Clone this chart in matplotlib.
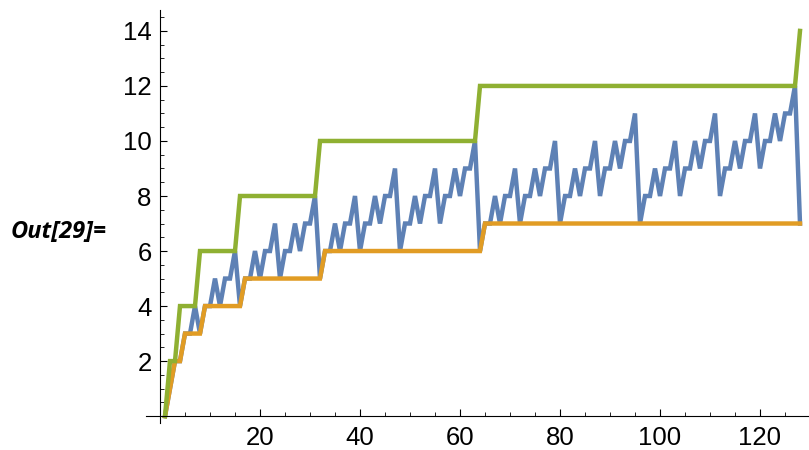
import matplotlib
matplotlib.use("Agg")
import matplotlib.pyplot as plt
from matplotlib.ticker import MultipleLocator

plt.rcParams["font.family"] = ["Liberation Sans", "DejaVu Sans"]

n_values = list(range(1, 129))

# binary-method multiplication count
blue_vals = [
    0, 1, 2, 2, 3, 3, 4, 3, 4, 4, 5, 4, 5, 5, 6, 4,
    5, 5, 6, 5, 6, 6, 7, 5, 6, 6, 7, 6, 7, 7, 8, 5,
    6, 6, 7, 6, 7, 7, 8, 6, 7, 7, 8, 7, 8, 8, 9, 6,
    7, 7, 8, 7, 8, 8, 9, 7, 8, 8, 9, 8, 9, 9, 10, 6,
    7, 7, 8, 7, 8, 8, 9, 7, 8, 8, 9, 8, 9, 9, 10, 7,
    8, 8, 9, 8, 9, 9, 10, 8, 9, 9, 10, 9, 10, 10, 11, 7,
    8, 8, 9, 8, 9, 9, 10, 8, 9, 9, 10, 9, 10, 10, 11, 8,
    9, 9, 10, 9, 10, 10, 11, 9, 10, 10, 11, 10, 11, 11, 12, 7,
]
# lower bound
orange_vals = [
    0, 1, 2, 2, 3, 3, 3, 3, 4, 4, 4, 4, 4, 4, 4, 4,
    5, 5, 5, 5, 5, 5, 5, 5, 5, 5, 5, 5, 5, 5, 5, 5,
    6, 6, 6, 6, 6, 6, 6, 6, 6, 6, 6, 6, 6, 6, 6, 6,
    6, 6, 6, 6, 6, 6, 6, 6, 6, 6, 6, 6, 6, 6, 6, 6,
    7, 7, 7, 7, 7, 7, 7, 7, 7, 7, 7, 7, 7, 7, 7, 7,
    7, 7, 7, 7, 7, 7, 7, 7, 7, 7, 7, 7, 7, 7, 7, 7,
    7, 7, 7, 7, 7, 7, 7, 7, 7, 7, 7, 7, 7, 7, 7, 7,
    7, 7, 7, 7, 7, 7, 7, 7, 7, 7, 7, 7, 7, 7, 7, 7,
]
# upper bound
green_vals = [
    0, 2, 2, 4, 4, 4, 4, 6, 6, 6, 6, 6, 6, 6, 6, 8,
    8, 8, 8, 8, 8, 8, 8, 8, 8, 8, 8, 8, 8, 8, 8, 10,
    10, 10, 10, 10, 10, 10, 10, 10, 10, 10, 10, 10, 10, 10, 10, 10,
    10, 10, 10, 10, 10, 10, 10, 10, 10, 10, 10, 10, 10, 10, 10, 12,
    12, 12, 12, 12, 12, 12, 12, 12, 12, 12, 12, 12, 12, 12, 12, 12,
    12, 12, 12, 12, 12, 12, 12, 12, 12, 12, 12, 12, 12, 12, 12, 12,
    12, 12, 12, 12, 12, 12, 12, 12, 12, 12, 12, 12, 12, 12, 12, 12,
    12, 12, 12, 12, 12, 12, 12, 12, 12, 12, 12, 12, 12, 12, 12, 14,
]

x_major = [20, 40, 60, 80, 100, 120]
y_major = [2, 4, 6, 8, 10, 12, 14]

fig = plt.figure(figsize=(8.09, 4.5), dpi=100)
ax = fig.add_axes([146 / 809, 27 / 450, 663 / 809, 413 / 450])

lw = 3.2
ax.plot(n_values, blue_vals, color="#5E81B5", lw=lw, solid_joinstyle="miter")
ax.plot(n_values, orange_vals, color="#E19C24", lw=lw, solid_joinstyle="miter")
ax.plot(n_values, green_vals, color="#8FB032", lw=lw, solid_joinstyle="miter")

ax.set_xlim(-2.8, 129.8)
ax.set_ylim(-0.25, 14.76)

for side in ("top", "right"):
    ax.spines[side].set_visible(False)
ax.spines["left"].set_position(("data", 0))
ax.spines["bottom"].set_position(("data", 0))
for side in ("left", "bottom"):
    ax.spines[side].set_linewidth(0.8)

ax.set_xticks(x_major)
ax.set_yticks(y_major)
ax.xaxis.set_minor_locator(MultipleLocator(5))
ax.yaxis.set_minor_locator(MultipleLocator(0.5))
ax.tick_params(which="major", direction="in", length=5, width=0.8, labelsize=18.5, colors="black")
ax.tick_params(which="minor", direction="in", length=3, width=0.6)
ax.tick_params(axis="x", pad=7)
ax.tick_params(axis="y", pad=6)

fig.text(11 / 809, 1 - 232 / 450, "Out[29]=", fontsize=17, fontweight="bold",
         fontstyle="italic", va="center", ha="left", family=["Open Sans", "DejaVu Sans"])

fig.savefig("out.png", dpi=100)
